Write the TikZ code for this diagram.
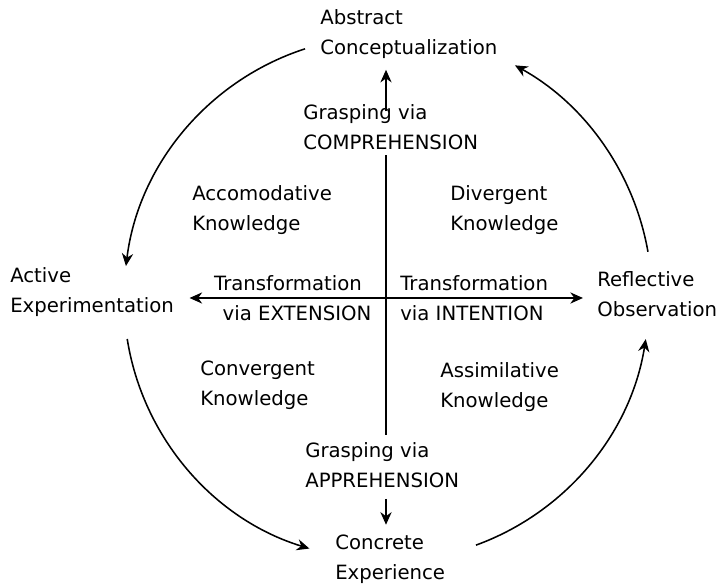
\documentclass[tikz,border=0pt]{standalone}
\usepackage{fontspec}
\setmainfont{DejaVu Sans}
\usetikzlibrary{arrows.meta,calc}

\tikzset{
  txt/.style={align=left, inner sep=0pt, font=\fontsize{14}{21}\selectfont},
  arr/.style={-{Stealth[length=9pt, width=8pt]}, line width=1.1pt},
  ln/.style={line width=1.1pt}
}

\begin{document}
\begin{tikzpicture}[x=0.025cm, y=0.025cm]
    \useasboundingbox (0,0) rectangle (723,584);
    \coordinate (o) at (386,286);

    % the four stages
    \node[txt, anchor=west] (abs) at (320,550) {Abstract\\Conceptualization};
    \node[txt, anchor=west] (act) at (10,292) {Active\\Experimentation};
    \node[txt, anchor=west] (ref) at (597,290) {Reflective\\Observation};
    \node[txt, anchor=west] (con) at (335,25) {Concrete\\Experience};

    % axes labels
    \node[txt, anchor=west] (gtop) at (303,457) {Grasping via\\COMPREHENSION};
    \node[txt, anchor=west] (gbot) at (305,119) {Grasping via\\APPREHENSION};
    \node[txt] (tleft) at (288,301) {Transformation};
    \node[txt] (eleft) at (297,271) {via EXTENSION};
    \node[txt, anchor=west] (tright) at (400,301) {Transformation};
    \node[txt, anchor=west] (eright) at (400,271) {via INTENTION};

    % kinds of knowledge
    \node[txt, anchor=west] (acc) at (192,374) {Accomodative\\Knowledge};
    \node[txt, anchor=west] (div) at (450,374) {Divergent\\Knowledge};
    \node[txt, anchor=west] (conv) at (200,199) {Convergent\\Knowledge};
    \node[txt, anchor=west] (assim) at (440,197) {Assimilative\\Knowledge};

    % cross in the middle
    \draw[ln, shorten <=4pt, shorten >=5pt] (gtop.south -| o) -- (gbot.north -| o);
    \draw[arr, {Stealth[length=9pt, width=8pt]}-{Stealth[length=9pt, width=8pt]}, shorten <=11pt, shorten >=10pt] (act.east |- o) -- (ref.west |- o);
    \draw[arr, shorten <=-5pt, shorten >=8pt] (gtop.north -| o) -- (abs.south -| o);
    \draw[arr, shorten <=8pt, shorten >=7pt] (gbot.south -| o) -- (con.north -| o);

    % the cycle
    \draw[arr] (o) ++(108:262) arc[start angle=108, end angle=173, radius=262];
    \draw[arr] (o) ++(189:262) arc[start angle=189, end angle=253, radius=262];
    \draw[arr] (o) ++(290:263) arc[start angle=290, end angle=351, radius=263];
    \draw[arr] (o) ++(10:266) arc[start angle=10, end angle=61, radius=266];
\end{tikzpicture}
\end{document}
